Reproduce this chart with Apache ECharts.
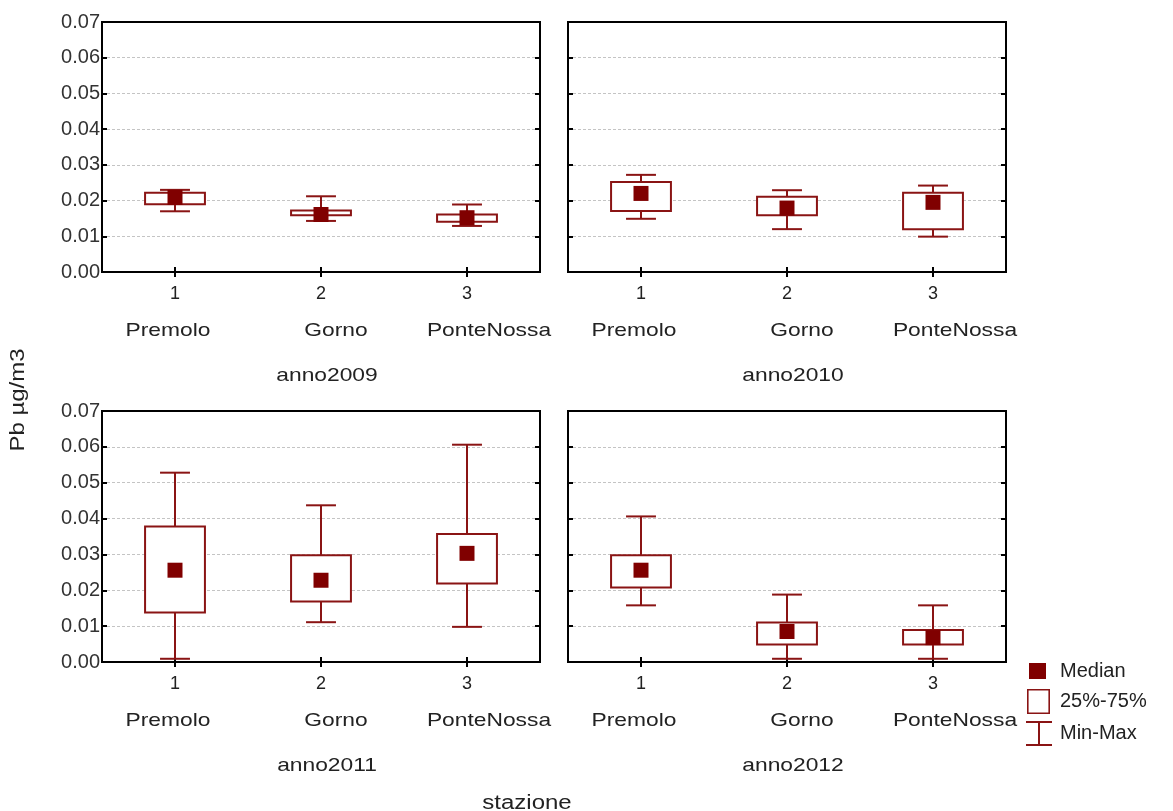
<!DOCTYPE html>
<html>
<head>
<meta charset="utf-8">
<title>Pb µg/m3 per stazione</title>
<script src="https://cdn.jsdelivr.net/npm/echarts@6/dist/echarts.min.js"></script>
<style>
  html, body { margin: 0; padding: 0; background: #ffffff; }
  #chart { width: 1173px; height: 811px; }
</style>
</head>
<body>
<div id="chart"></div>
<script>
// ---- data ----
const stations = ['1', '2', '3'];
const stationNames = ['Premolo', 'Gorno', 'PonteNossa'];
const years = ['anno2009', 'anno2010', 'anno2011', 'anno2012'];
const yTicks = [0, 0.01, 0.02, 0.03, 0.04, 0.05, 0.06, 0.07];

// Pb (µg/m3) per station: minimum, 25th percentile, median, 75th percentile, maximum
const min2009 = [0.0170, 0.0143, 0.0129];
const q1_2009 = [0.0190, 0.0159, 0.0141];
const med2009 = [0.0209, 0.0161, 0.0152];
const q3_2009 = [0.0222, 0.0172, 0.0161];
const max2009 = [0.0230, 0.0212, 0.0189];

const min2010 = [0.0149, 0.0120, 0.0099];
const q1_2010 = [0.0171, 0.0159, 0.0120];
const med2010 = [0.0220, 0.0179, 0.0195];
const q3_2010 = [0.0252, 0.0211, 0.0222];
const max2010 = [0.0272, 0.0229, 0.0242];

const min2011 = [0.0009, 0.0111, 0.0098];
const q1_2011 = [0.0138, 0.0169, 0.0219];
const med2011 = [0.0256, 0.0228, 0.0303];
const q3_2011 = [0.0378, 0.0298, 0.0357];
const max2011 = [0.0528, 0.0437, 0.0606];

const min2012 = [0.0158, 0.0009, 0.0009];
const q1_2012 = [0.0208, 0.0049, 0.0049];
const med2012 = [0.0256, 0.0085, 0.0068];
const q3_2012 = [0.0298, 0.0110, 0.0089];
const max2012 = [0.0406, 0.0188, 0.0158];

const yearStats = [
  { min: min2009, q1: q1_2009, med: med2009, q3: q3_2009, max: max2009 },
  { min: min2010, q1: q1_2010, med: med2010, q3: q3_2010, max: max2010 },
  { min: min2011, q1: q1_2011, med: med2011, q3: q3_2011, max: max2011 },
  { min: min2012, q1: q1_2012, med: med2012, q3: q3_2012, max: max2012 }
];

// ---- layout & style ----
const LINE = '#8a1414';
const MED = '#800000';
const TEXT = '#222222';
const FONT = '"Liberation Sans", Arial, Helvetica, sans-serif';
const BOX_FRAC = 0.41;            // box width as a share of the category band
const panels = [
  { left: 102, top: 22,  width: 438, height: 250, labels: true },
  { left: 568, top: 22,  width: 438, height: 250, labels: false },
  { left: 102, top: 411, width: 438, height: 251, labels: true },
  { left: 568, top: 411, width: 438, height: 251, labels: false }
];
const nameOffsets = [-7, 15, 22];  // station name shift from the tick, px

const grids = [], xAxes = [], yAxes = [], series = [];

panels.forEach((p, i) => {
  grids.push({
    left: p.left, top: p.top, width: p.width, height: p.height,
    show: true, borderColor: '#000', borderWidth: 2, backgroundColor: 'transparent'
  });
});

const tickStyle = { color: '#000', width: 2 };

// bottom category axes (with 1/2/3 labels)
panels.forEach((p, i) => {
  xAxes.push({
    type: 'category', gridIndex: i, data: stations, position: 'bottom',
    boundaryGap: true,
    axisLine: { show: false },
    axisTick: { show: true, inside: true, alignWithLabel: true, length: 5, lineStyle: tickStyle },
    axisLabel: { show: true, margin: 13, fontSize: 18, color: TEXT, fontFamily: FONT },
    splitLine: { show: false }
  });
});
// top category axes (ticks only)
panels.forEach((p, i) => {
  xAxes.push({
    type: 'category', gridIndex: i, data: stations, position: 'top',
    boundaryGap: true,
    axisLine: { show: false },
    axisTick: { show: true, inside: true, alignWithLabel: true, length: 5, lineStyle: tickStyle },
    axisLabel: { show: false },
    splitLine: { show: false }
  });
});
// left value axes
panels.forEach((p, i) => {
  yAxes.push({
    type: 'value', gridIndex: i, position: 'left',
    min: yTicks[0], max: yTicks[yTicks.length - 1], interval: 0.01,
    axisLine: { show: false },
    axisTick: { show: true, inside: true, length: 5, lineStyle: tickStyle },
    axisLabel: { show: p.labels, margin: 2, fontSize: 20, color: '#333', fontFamily: FONT,
                 formatter: v => v.toFixed(2) },
    splitLine: { show: true, showMinLine: false, showMaxLine: false,
                 lineStyle: { color: '#c4c4c4', width: 1, type: [3, 2] } }
  });
});
// right value axes (ticks only)
panels.forEach((p, i) => {
  yAxes.push({
    type: 'value', gridIndex: i, position: 'right',
    min: yTicks[0], max: yTicks[yTicks.length - 1], interval: 0.01,
    axisLine: { show: false },
    axisTick: { show: true, inside: true, length: 5, lineStyle: tickStyle },
    axisLabel: { show: false },
    splitLine: { show: false }
  });
});

// whisker: vertical stem from min to max with caps at both ends
function renderWhisker(params, api) {
  const x = api.value(0);
  const lo = api.coord([x, api.value(1)]);
  const hi = api.coord([x, api.value(2)]);
  const half = api.size([1, 0])[0] * BOX_FRAC / 4;
  const style = { stroke: LINE, lineWidth: 2, fill: null };
  return {
    type: 'group',
    children: [
      { type: 'line', shape: { x1: lo[0], y1: lo[1], x2: hi[0], y2: hi[1] }, style },
      { type: 'line', shape: { x1: lo[0] - half, y1: lo[1], x2: lo[0] + half, y2: lo[1] }, style },
      { type: 'line', shape: { x1: hi[0] - half, y1: hi[1], x2: hi[0] + half, y2: hi[1] }, style }
    ]
  };
}

// box: 25th to 75th percentile
function renderBox(params, api) {
  const x = api.value(0);
  const lo = api.coord([x, api.value(1)]);
  const hi = api.coord([x, api.value(2)]);
  const w = api.size([1, 0])[0] * BOX_FRAC;
  return {
    type: 'rect',
    shape: { x: lo[0] - w / 2, y: hi[1], width: w, height: lo[1] - hi[1] },
    style: { fill: '#fff', stroke: LINE, lineWidth: 2 }
  };
}

yearStats.forEach((s, i) => {
  series.push({
    name: 'Min-Max', type: 'custom', xAxisIndex: i, yAxisIndex: i,
    itemStyle: { color: LINE },
    renderItem: renderWhisker,
    encode: { x: 0, y: [1, 2] },
    data: stations.map((c, k) => [k, s.min[k], s.max[k]]),
    z: 2
  });
  series.push({
    name: '25%-75%', type: 'custom', xAxisIndex: i, yAxisIndex: i,
    itemStyle: { color: LINE },
    renderItem: renderBox,
    encode: { x: 0, y: [1, 2] },
    data: stations.map((c, k) => [k, s.q1[k], s.q3[k]]),
    z: 3
  });
  series.push({
    name: 'Median', type: 'scatter', xAxisIndex: i, yAxisIndex: i,
    symbol: 'rect', symbolSize: 15,
    itemStyle: { color: MED, opacity: 1 },
    data: stations.map((c, k) => [k, s.med[k]]),
    z: 4
  });
});

// ---- text below the panels ----
const graphics = [];
function addText(text, x, y, size, opts) {
  graphics.push(Object.assign({
    type: 'text', x: x, y: y, scaleX: 1.2, silent: true,
    style: { text: text, fill: TEXT, font: size + 'px ' + FONT, align: 'center', verticalAlign: 'middle' }
  }, opts || {}));
}

const chart = echarts.init(document.getElementById('chart'), null, { renderer: 'canvas' });

chart.setOption({
  animation: false,
  backgroundColor: '#ffffff',
  grid: grids,
  xAxis: xAxes,
  yAxis: yAxes,
  series: series,
  legend: [
    {
      data: [{ name: 'Median', icon: 'rect' }],
      left: 1029, top: 659, padding: 0, itemWidth: 17, itemHeight: 16,
      selectedMode: false, itemStyle: { borderWidth: 0 },
      textStyle: { fontSize: 20, color: TEXT, fontFamily: FONT, lineHeight: 24, padding: [0, 0, 0, 9] }
    },
    {
      data: [{ name: '25%-75%', icon: 'path://M0,0H23V25H0Z M1.6,1.6V23.4H21.4V1.6Z' }],
      left: 1027, top: 689, padding: 0, itemWidth: 23, itemHeight: 25,
      selectedMode: false, itemStyle: { borderWidth: 0 },
      textStyle: { fontSize: 20, color: TEXT, fontFamily: FONT, lineHeight: 24, padding: [0, 0, 0, 5] }
    },
    {
      data: [{ name: 'Min-Max', icon: 'path://M0,0H26V2H14V23H26V25H0V23H12V2H0Z' }],
      left: 1026, top: 721, padding: 0, itemWidth: 26, itemHeight: 25,
      selectedMode: false, itemStyle: { borderWidth: 0 },
      textStyle: { fontSize: 20, color: TEXT, fontFamily: FONT, lineHeight: 24, padding: [0, 0, 0, 3] }
    }
  ]
});

// station names and year captions, placed from each panel's axis positions
panels.forEach((p, i) => {
  const bottom = p.top + p.height;
  stations.forEach((c, k) => {
    const px = chart.convertToPixel({ xAxisIndex: i }, k);
    addText(stationNames[k], px + nameOffsets[k], bottom + 59, 19);
  });
  addText(years[i], p.left + p.width / 2 + 6, bottom + 104, 19);
});
addText('stazione', 527, 803, 20, {});
addText('Pb µg/m3', 18, 400, 20, { rotation: Math.PI / 2 });

chart.setOption({ graphic: graphics });
</script>
</body>
</html>
